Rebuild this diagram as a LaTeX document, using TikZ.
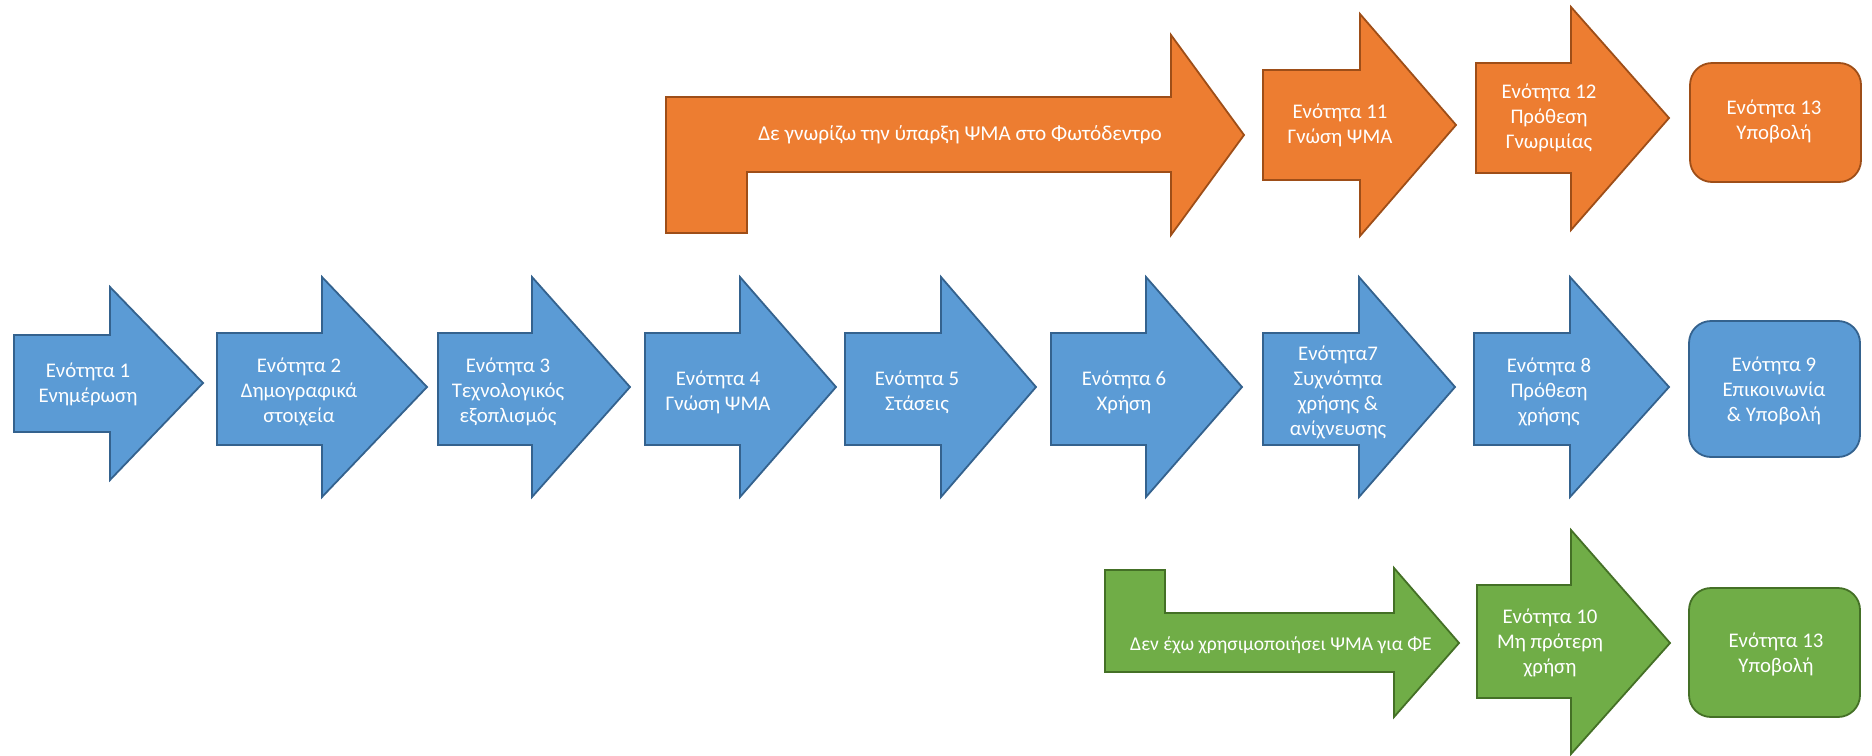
\documentclass[tikz,border=0pt]{standalone}
\usepackage{fontspec}
\setmainfont{Carlito}
\definecolor{myblue}{RGB}{91,155,213}
\definecolor{myblueedge}{RGB}{52,98,142}
\definecolor{myorange}{RGB}{237,125,49}
\definecolor{myorangeedge}{RGB}{158,78,24}
\definecolor{mygreen}{RGB}{112,173,71}
\definecolor{mygreenedge}{RGB}{68,112,38}
\tikzset{
  bluearrow/.style={fill=myblue, draw=myblueedge, line width=0.9pt, line join=miter},
  orangearrow/.style={fill=myorange, draw=myorangeedge, line width=0.9pt, line join=miter},
  greenarrow/.style={fill=mygreen, draw=mygreenedge, line width=0.9pt, line join=miter},
  lbl/.style={text=white, align=center, inner sep=0pt, font=\fontsize{10.4}{12.5}\selectfont}
}

\begin{document}
\begin{tikzpicture}[x=0.5pt, y=-0.5pt]
  \useasboundingbox (0,0) rectangle (1872,755);
  % ═══════════════════════════════════════════════════════════════
  % MIDDLE ROW: BLUE SECTIONS 1-9
  % ═══════════════════════════════════════════════════════════════
  \draw[bluearrow] (14,335) -- (110,335) -- (110,287) -- (203,383) -- (110,480) -- (110,432) -- (14,432) -- cycle;
  \node[lbl] (s1) at (88,384) {Ενότητα 1\\Ενημέρωση};

  \draw[bluearrow] (217,333) -- (322,333) -- (322,277) -- (427,387) -- (322,497) -- (322,445) -- (217,445) -- cycle;
  \node[lbl] (s2) at (299,392) {Ενότητα 2\\Δημογραφικά\\στοιχεία};

  \draw[bluearrow] (438,333) -- (532,333) -- (532,277) -- (630,387) -- (532,497) -- (532,445) -- (438,445) -- cycle;
  \node[lbl] (s3) at (508,392) {Ενότητα 3\\Τεχνολογικός\\εξοπλισμός};

  \draw[bluearrow] (645,333) -- (740,333) -- (740,277) -- (836,387) -- (740,497) -- (740,445) -- (645,445) -- cycle;
  \node[lbl] (s4) at (718,392) {Ενότητα 4\\Γνώση ΨΜΑ};

  \draw[bluearrow] (845,333) -- (941,333) -- (941,277) -- (1036,387) -- (941,497) -- (941,445) -- (845,445) -- cycle;
  \node[lbl] (s5) at (917,392) {Ενότητα 5\\Στάσεις};

  \draw[bluearrow] (1051,333) -- (1146,333) -- (1146,277) -- (1242,387) -- (1146,497) -- (1146,445) -- (1051,445) -- cycle;
  \node[lbl] (s6) at (1124,392) {Ενότητα 6\\Χρήση};

  \draw[bluearrow] (1263,333) -- (1359,333) -- (1359,277) -- (1455,387) -- (1359,497) -- (1359,445) -- (1263,445) -- cycle;
  \node[lbl] (s7) at (1338,392) {Ενότητα7\\Συχνότητα\\χρήσης \&\\ανίχνευσης};

  \draw[bluearrow] (1474,333) -- (1570,333) -- (1570,277) -- (1669,387) -- (1570,497) -- (1570,445) -- (1474,445) -- cycle;
  \node[lbl] (s8) at (1549,392) {Ενότητα 8\\Πρόθεση\\χρήσης};

  \draw[bluearrow, rounded corners=11pt] (1689,321) rectangle (1860,457);
  \node[lbl] (s9) at (1774,391) {Ενότητα 9\\Επικοινωνία\\\& Υποβολή};

  % ═══════════════════════════════════════════════════════════════
  % TOP ROW: ORANGE BRANCH (no knowledge)
  % ═══════════════════════════════════════════════════════════════
  \draw[orangearrow] (666,97) -- (1171,97) -- (1171,35) -- (1244,135) -- (1171,235) -- (1171,172) -- (747,172) -- (747,233) -- (666,233) -- cycle;
  \node[lbl, font=\fontsize{10.6}{12.5}\selectfont] (nok) at (960,135) {Δε γνωρίζω την ύπαρξη ΨΜΑ στο Φωτόδεντρο};

  \draw[orangearrow] (1263,70) -- (1360,70) -- (1360,14) -- (1456,125) -- (1360,236) -- (1360,180) -- (1263,180) -- cycle;
  \node[lbl] (s11) at (1340,125) {Ενότητα 11\\Γνώση ΨΜΑ};

  \draw[orangearrow] (1476,63) -- (1571,63) -- (1571,7) -- (1669,118) -- (1571,230) -- (1571,173) -- (1476,173) -- cycle;
  \node[lbl] (s12) at (1549,118) {Ενότητα 12\\Πρόθεση\\Γνωριμίας};

  \draw[orangearrow, rounded corners=11pt] (1690,63) rectangle (1861,182);
  \node[lbl] (s13o) at (1774,121) {Ενότητα 13\\Υποβολή};

  % ═══════════════════════════════════════════════════════════════
  % BOTTOM ROW: GREEN BRANCH (no prior use)
  % ═══════════════════════════════════════════════════════════════
  \draw[greenarrow] (1105,570) -- (1165,570) -- (1165,613) -- (1394,613) -- (1394,568) -- (1459,643) -- (1394,717) -- (1394,672) -- (1105,672) -- cycle;
  \node[lbl, font=\fontsize{9.8}{12.5}\selectfont] (nouse) at (1281,645) {Δεν έχω χρησιμοποιήσει ΨΜΑ για ΦΕ};

  \draw[greenarrow] (1477,585) -- (1571,585) -- (1571,530) -- (1670,643) -- (1571,754) -- (1571,698) -- (1477,698) -- cycle;
  \node[lbl] (s10) at (1550,643) {Ενότητα 10\\Μη πρότερη\\χρήση};

  \draw[greenarrow, rounded corners=11pt] (1689,588) rectangle (1860,717);
  \node[lbl] (s13g) at (1776,654) {Ενότητα 13\\Υποβολή};
\end{tikzpicture}
\end{document}
